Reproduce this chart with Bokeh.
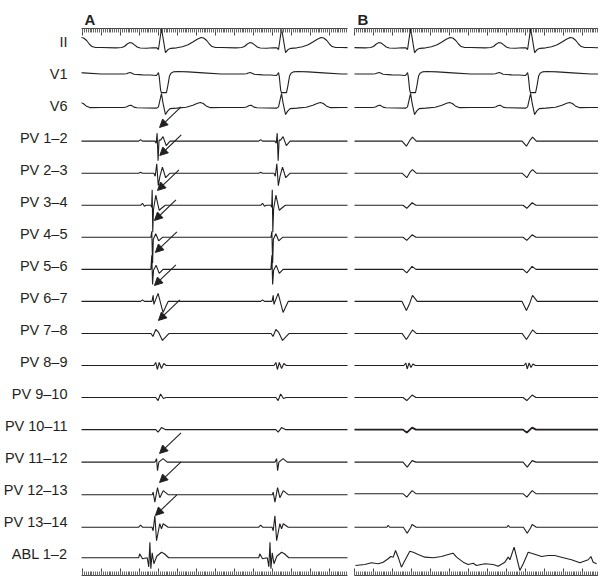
from bokeh.plotting import figure
from bokeh.models import (Range1d, LinearAxis, SingleIntervalTicker, FixedTicker,
                          Arrow, NormalHead, ColumnDataSource, CustomLabelingPolicy)
from bokeh.layouts import row
from bokeh.embed import file_html
from bokeh.resources import INLINE

# ---------------- data ----------------
channels = ["II", "V1", "V6", "PV 1–2", "PV 2–3", "PV 3–4", "PV 4–5", "PV 5–6",
            "PV 6–7", "PV 7–8", "PV 8–9", "PV 9–10", "PV 10–11", "PV 11–12",
            "PV 12–13", "PV 13–14", "ABL 1–2"]
panel_titles = ["A", "B"]

# QRS times (ms) in each panel (outer ones fill the panel edges)
beats_A = [-216, 416, 1048, 1680]
beats_B = [-337, 295, 927, 1559]

# one cardiac cycle per channel: (ms relative to QRS, mV)
ii_cycle = [(-316, -0.25), (-240, -0.28), (-210, -0.25), (-195, -0.15), (-182, 0.08),
            (-168, 0.24), (-155, 0.2), (-142, 0.02), (-128, -0.2), (-112, -0.3),
            (-80, -0.32), (-45, -0.27), (-24, -0.28), (-16, -0.45), (0, 1.65),
            (21, -0.75), (34, -0.45), (50, -0.33), (80, -0.28), (110, -0.18),
            (140, 0.02), (165, 0.3), (188, 0.58), (208, 0.75), (222, 0.7),
            (238, 0.45), (252, 0.1), (266, -0.15), (285, -0.25), (316, -0.25)]
v1_cycle = [(-316, 0.3), (-200, 0.3), (-185, 0.33), (-175, 0.4), (-165, 0.45),
            (-155, 0.38), (-145, 0.28), (-100, 0.22), (-60, 0.2), (-28, 0.15),
            (-21, 0.3), (-16, 0.45), (-12, 0.05), (-5, -1.25), (-1, -1.55),
            (26, -1.55), (33, -0.9), (42, 0.1), (50, 0.38), (62, 0.52), (85, 0.56),
            (140, 0.52), (220, 0.42), (316, 0.3)]
v6_cycle = [(-316, 0.16), (-200, 0.16), (-185, 0.22), (-170, 0.36), (-160, 0.38),
            (-145, 0.2), (-130, 0.14), (-25, 0.1), (-16, 0.22), (-8, 0.9), (0, 1.56),
            (8, 0.6), (21, -0.54), (32, -0.2), (45, 0.05), (80, 0.1), (130, 0.18),
            (165, 0.38), (190, 0.58), (205, 0.66), (220, 0.56), (235, 0.32),
            (255, 0.15), (316, 0.16)]

pv12_a = [(-316, 0), (-120, 0), (-110, 0.15), (-100, 0), (-35, 0), (-28, -0.2),
          (-23, 0.8), (-18, -1.95), (-13, 0.1), (-5, 0.1), (8, 0.45), (25, -0.45),
          (45, 0), (316, 0)]
pv23_a = [(-316, 0), (-120, 0), (-110, 0.1), (-100, 0), (-40, 0), (-33, -0.3),
          (-25, 0.95), (-17, -1.25), (-8, -0.3), (5, 0.6), (22, -0.45), (45, 0), (316, 0)]
pv34_a = [(-316, 0), (-110, 0), (-100, 0.2), (-90, -0.1), (-80, 0), (-56, 0),
          (-52, -0.2), (-49, 1.55), (-46, -2.7), (-42, -0.4), (-30, 1.0),
          (-12, -0.5), (0, -0.3), (20, 0), (316, 0)]
pv45_a = [(-316, 0), (-56, 0), (-51, 0.6), (-47, -2.6), (-43, -0.2), (-30, 0.35),
          (-15, -0.35), (5, 0), (316, 0)]
pv56_a = [(-316, 0), (-56, 0), (-51, 1.4), (-47, -1.5), (-42, -0.1), (-28, 0.4),
          (-12, -0.4), (8, 0), (316, 0)]
pv67_a = [(-316, 0), (-110, 0), (-100, 0.15), (-90, 0), (-50, 0), (-44, 0.6),
          (-40, -0.3), (-18, 0.8), (8, -1.1), (35, 0), (316, 0)]
pv78_a = [(-316, 0), (-55, 0), (-45, -0.3), (-30, 0.4), (-15, 0.1), (5, -0.7),
          (40, 0), (316, 0)]
pv89_a = [(-316, 0), (-40, 0), (-30, 0.3), (-22, -0.4), (-12, 0.3), (0, -0.3),
          (12, 0.2), (25, 0), (316, 0)]
pv910_a = [(-316, 0), (-30, 0), (-18, -0.3), (-5, 0.35), (10, -0.1), (25, 0), (316, 0)]
pv1011_a = [(-316, 0), (-30, 0), (-18, -0.25), (0, 0.2), (20, 0), (316, 0)]
pv1112_a = [(-316, -0.05), (-35, -0.05), (-26, 0.3), (-21, -0.9), (-14, -0.05),
            (8, 0.3), (30, -0.05), (316, -0.05)]
pv1213_a = [(-316, -0.1), (-48, -0.1), (-44, 0.15), (-35, -0.85), (-21, 0.6),
            (-9, -0.4), (9, 0.3), (35, -0.1), (316, -0.1)]
pv1314_a = [(-316, -0.15), (-120, -0.15), (-110, 0.05), (-100, -0.15), (-50, -0.15),
            (-44, -0.5), (-35, 1.0), (-26, -1.5), (-9, 0.2), (0, -0.3), (9, 0.2),
            (35, -0.15), (316, -0.15)]
abl_a = [(-316, 0), (-120, 0), (-115, 0.4), (-100, -0.1), (-75, 0), (-67, -0.9),
         (-61, 1.55), (-56, -1.1), (-49, 0.5), (-40, -0.6), (-25, 0.15), (0, 0.55),
         (15, 0.4), (38, 0), (316, 0)]

pv12_b = [(-316, 0), (-45, 0), (-22, -0.5), (-5, 0.05), (10, 0.4), (30, 0), (316, 0)]
pv23_b = [(-316, 0), (-45, 0), (-20, -0.45), (-3, 0.1), (10, 0.35), (30, 0), (316, 0)]
pv34_b = [(-316, 0), (-40, 0), (-20, -0.3), (8, 0.25), (28, 0), (316, 0)]
pv45_b = [(-316, 0), (-40, 0), (-20, -0.3), (8, 0.25), (28, 0), (316, 0)]
pv56_b = [(-316, 0), (-40, 0), (-20, -0.35), (8, 0.3), (28, 0), (316, 0)]
pv67_b = [(-316, 0), (-45, 0), (-22, -0.9), (-5, -0.2), (10, 0.6), (35, 0), (316, 0)]
pv78_b = [(-316, 0), (-45, 0), (-22, -0.6), (-5, -0.1), (10, 0.35), (30, 0), (316, 0)]
pv89_b = [(-316, 0), (-35, 0), (-25, 0.25), (-18, -0.35), (-8, 0.25), (2, -0.2),
          (12, 0.15), (25, 0), (316, 0)]
pv910_b = [(-316, 0), (-40, 0), (-20, -0.3), (8, 0.25), (28, 0), (316, 0)]
pv1011_b = [(-316, 0), (-40, 0), (-20, -0.3), (8, 0.2), (28, 0), (316, 0)]
pv1112_b = [(-316, -0.05), (-40, -0.05), (-18, -0.55), (8, 0.1), (28, -0.05), (316, -0.05)]
pv1213_b = [(-316, 0), (-40, 0), (-20, -0.35), (8, 0.3), (28, 0), (316, 0)]
pv1314_b = [(-316, -0.15), (-125, -0.15), (-118, 0.05), (-110, -0.15), (-38, -0.15),
            (-18, -0.75), (0, -0.2), (8, 0.12), (30, -0.15), (316, -0.15)]

# ablation catheter in panel B (not periodic): ms, mV
abl_b_t = [5, 54, 89, 125, 151, 177, 191, 204, 216, 230, 247, 265, 291, 309, 335, 370,
           414, 458, 493, 519, 537, 572, 598, 625, 642, 686, 730, 756, 791, 809, 818,
           840, 853, 870, 888, 914, 940, 984, 1019, 1054, 1089, 1142, 1186, 1230,
           1244, 1256, 1274]
abl_b_v = [-0.77, -0.67, -0.5, -0.6, -0.44, -0.1, 0.13, 0.06, 0.73, 0.06, -0.94, -0.27,
           0.66, 0.56, 0.33, 0.06, 0.0, 0.13, 0.33, 0.46, 0.06, -0.44, -0.67, -0.54,
           -0.77, -0.6, -0.67, -0.84, -0.44, 0.06, -0.2, 1.06, 0.06, -1.27, -0.6,
           0.56, 0.4, 0.13, 0.23, 0.23, 0.06, -0.2, -0.5, -0.2, 0.13, -0.44, -0.6]

# arrows in panel A: channel, tip time rel. first QRS (ms), tip height (mV)
arrow_channels = ["PV 1–2", "PV 2–3", "PV 3–4", "PV 4–5", "PV 5–6", "PV 6–7",
                  "PV 7–8", "PV 11–12", "PV 12–13", "PV 13–14"]
arrow_tip_dt = [-10, -9, -21, -37, -32, -37, -16, -10, -10, -32]
arrow_tip_mv = [1.37, 1.77, 1.48, 1.68, 1.69, 1.59, 1.30, 0.82, 1.12, 1.03]

# ---------------- styling / scales ----------------
ROW = 32          # vertical units between channel baselines
GAIN = 10         # units per mV
LABEL_RAISE = 3.5 # channel names sit slightly above their baseline
INK = "#231f20"
FONT = "Liberation Sans"
Y_TOP = 16.5

cycles_A = dict(zip(channels, [ii_cycle, v1_cycle, v6_cycle, pv12_a, pv23_a, pv34_a,
                               pv45_a, pv56_a, pv67_a, pv78_a, pv89_a, pv910_a,
                               pv1011_a, pv1112_a, pv1213_a, pv1314_a, abl_a]))
cycles_B = dict(zip(channels[:-1], [ii_cycle, v1_cycle, v6_cycle, pv12_b, pv23_b,
                                    pv34_b, pv45_b, pv56_b, pv67_b, pv78_b, pv89_b,
                                    pv910_b, pv1011_b, pv1112_b, pv1213_b, pv1314_b]))
offsets = [-i * ROW for i in range(len(channels))]

NO_LABELS = CustomLabelingPolicy(code="""
const out = (typeof indices.clone === 'function') ? indices.clone() : indices;
for (const i of Array.from(indices)) { out.unset(i); }
return out;
""")


def periodic(cycle, beats):
    ts, vs = [], []
    for b in beats:
        for dt, v in cycle:
            ts.append(b + dt)
            vs.append(v)
    return ts, vs


def make_panel(title, xr, frame_w, left, right):
    p = figure(title=title, frame_width=frame_w, frame_height=547,
               x_range=Range1d(*xr), y_range=Range1d(-529.7, Y_TOP),
               x_axis_location=None, y_axis_location=None,
               output_backend="svg", toolbar_location=None,
               min_border_left=left, min_border_right=right,
               min_border_top=28, min_border_bottom=3)
    p.grid.visible = False
    p.outline_line_color = None
    p.background_fill_color = "white"
    p.title.text_font = FONT
    p.title.text_font_size = "15px"
    p.title.text_font_style = "bold"
    p.title.text_color = INK
    p.title.align = "left"
    p.title.vertical_align = "middle"
    p.title.offset = 3
    p.title.standoff = 0
    for loc in ("above", "below"):
        ax = LinearAxis(ticker=SingleIntervalTicker(interval=100, num_minor_ticks=10),
                        major_label_policy=NO_LABELS,
                        major_label_text_font_size="0px", major_label_standoff=0,
                        major_tick_in=7, major_tick_out=0,
                        minor_tick_in=4, minor_tick_out=0,
                        axis_line_color="#444444", major_tick_line_color="#444444",
                        minor_tick_line_color="#666666")
        p.add_layout(ax, loc)
    return p


pA = make_panel(panel_titles[0], (-5, 1395), 266, 72, 3)
pB = make_panel(panel_titles[1], (0, 1284), 244, 4, 0)

label_ticks = [o + LABEL_RAISE for o in offsets]
yax = LinearAxis(ticker=FixedTicker(ticks=label_ticks),
                 major_label_overrides={t: n for t, n in zip(label_ticks, channels)},
                 axis_line_color=None, major_tick_line_color=None,
                 minor_tick_line_color=None, major_label_standoff=8,
                 major_label_text_font=FONT, major_label_text_font_size="14.5px",
                 major_label_text_color=INK)
pA.add_layout(yax, "left")

for name, off in zip(channels, offsets):
    ts, vs = periodic(cycles_A[name], beats_A)
    pA.line(ts, [off + v * GAIN for v in vs], line_color=INK, line_width=1.1)

for name, off in zip(channels, offsets):
    if name in cycles_B:
        ts, vs = periodic(cycles_B[name], beats_B)
    else:
        ts, vs = abl_b_t, abl_b_v
    lw = 1.8 if name == "PV 10–11" else 1.1
    pB.line(ts, [off + v * GAIN for v in vs], line_color=INK, line_width=lw)

# arrows
tip_x = [beats_A[1] + d for d in arrow_tip_dt]
tip_y = [offsets[channels.index(c)] + m * GAIN for c, m in zip(arrow_channels, arrow_tip_mv)]
arrow_src = ColumnDataSource(dict(xs=[x + 113 for x in tip_x], ys=[y + 20.5 for y in tip_y],
                                  xe=tip_x, ye=tip_y))
pA.add_layout(Arrow(source=arrow_src, x_start="xs", y_start="ys", x_end="xe", y_end="ye",
                    line_color=INK, line_width=1.1,
                    end=NormalHead(size=8, fill_color=INK, line_color=INK, line_width=1)))

layout = row(pA, pB, spacing=0)
open("out.html", "w").write(file_html(layout, INLINE))
